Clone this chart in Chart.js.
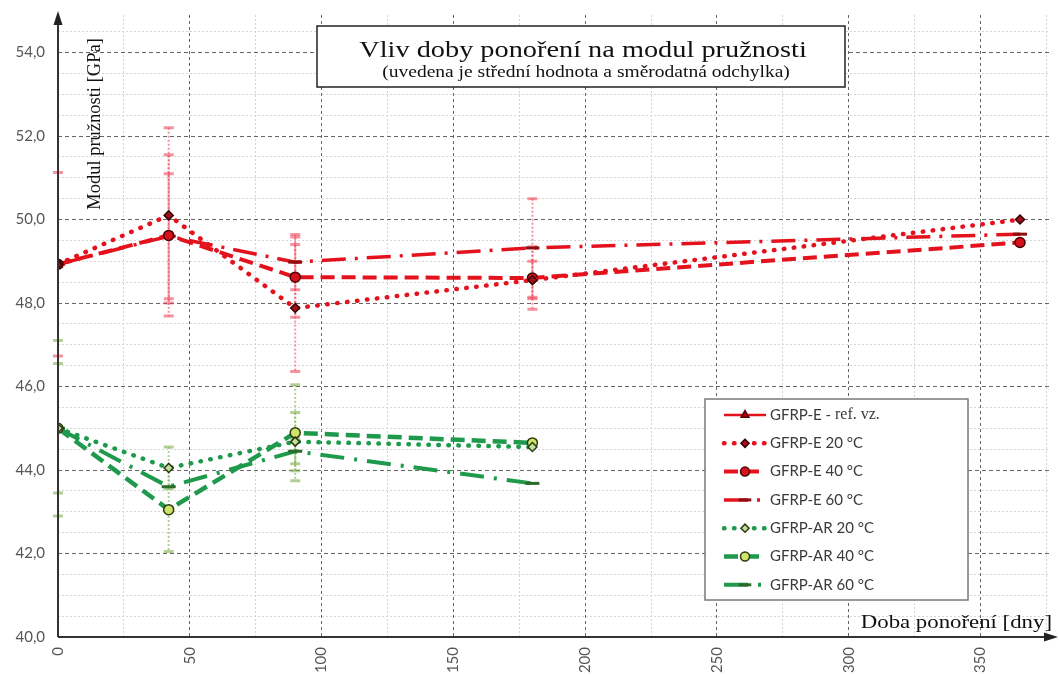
<!DOCTYPE html>
<html>
<head>
<meta charset="utf-8">
<script src="https://cdn.jsdelivr.net/npm/chart.js@4.4.0/dist/chart.umd.min.js"></script>
<style>
  html, body { margin: 0; padding: 0; background: #fff; }
  #wrap { width: 1059px; height: 675px; }
</style>
</head>
<body>
<div id="wrap"><canvas id="modulChart"></canvas></div>
<script>
// ─── Data ─────────────────────────────────────────────────────────────────
const seriesNames = ['GFRP-E - ref. vz.', 'GFRP-E 20 °C', 'GFRP-E 40 °C', 'GFRP-E 60 °C',
                     'GFRP-AR 20 °C', 'GFRP-AR 40 °C', 'GFRP-AR 60 °C'];

const refDays = [0];
const eDays = [0, 42, 90, 180, 365];
const arDays = [0, 42, 90, 180];

const refMean = [48.93];
const refErr  = [2.2];

const e20Mean = [48.93, 50.10, 47.88, 48.55, 50.00];
const e20Err  = [0, 2.10, 1.52, 0.45, 0];
const e40Mean = [48.93, 49.62, 48.62, 48.60, 49.45];
const e40Err  = [0, 1.93, 0.96, 0.75, 0];
const e60Mean = [48.93, 49.60, 48.98, 49.32, 49.65];
const e60Err  = [0, 1.50, 0.66, 1.18, 0];

const ar20Mean = [45.00, 44.05, 44.68, 44.55];
const ar20Err  = [1.55, 0.50, 0.70, 0];
const ar40Mean = [45.00, 43.05, 44.89, 44.65];
const ar40Err  = [2.10, 1.00, 1.15, 0];
const ar60Mean = [45.00, 43.60, 44.45, 43.68];
const ar60Err  = [0, 0, 0.30, 0];

const xTickStep = 25;    // minor grid every 25 days, labels every 50
const yTickStep = 0.5;   // minor grid every 0.5 GPa, labels every 2

const chartTitle = 'Vliv doby ponoření na modul pružnosti';
const chartSubtitle = '(uvedena je střední hodnota a směrodatná odchylka)';
const yTitle = 'Modul pružnosti [GPa]';
const xTitle = 'Doba ponoření [dny]';

// ─── Styling ──────────────────────────────────────────────────────────────
const RED = '#e3121d';
const GREEN = '#1f9a4c';
const RED_ERR = 'rgba(236, 60, 80, 0.55)';
const GREEN_ERR = 'rgba(130, 175, 80, 0.6)';
const SANS = 'Lato, "Open Sans", sans-serif';
const SERIF = '"Liberation Serif", "DejaVu Serif", serif';

function pts(xs, ys) {
    return xs.map((x, i) => ({ x, y: ys[i] }));
}

function series(label, xs, ys, errs, style) {
    return Object.assign({
        label,
        data: pts(xs, ys),
        errors: errs,
        fill: false,
        tension: 0,
        borderCapStyle: 'butt',
        pointBorderWidth: 1.5,
        pointHoverRadius: 0
    }, style);
}

const datasets = [
    series(seriesNames[0], refDays, refMean, refErr, {
        borderColor: RED, borderWidth: 2.5, borderDash: [],
        pointStyle: 'triangle', pointRadius: 5,
        pointBackgroundColor: '#b00010', pointBorderColor: '#5a0000', errColor: RED_ERR
    }),
    series(seriesNames[1], eDays, e20Mean, e20Err, {
        borderColor: RED, borderWidth: 4.5, borderDash: [0.5, 9.5], borderCapStyle: 'round',
        pointStyle: 'rectRot', pointRadius: 4.5,
        pointBackgroundColor: '#a0101e', pointBorderColor: '#3a0000', errColor: RED_ERR
    }),
    series(seriesNames[2], eDays, e40Mean, e40Err, {
        borderColor: RED, borderWidth: 4, borderDash: [14, 7],
        pointStyle: 'circle', pointRadius: 5,
        pointBackgroundColor: '#d8101c', pointBorderColor: '#4a0000', errColor: RED_ERR
    }),
    series(seriesNames[3], eDays, e60Mean, e60Err, {
        borderColor: RED, borderWidth: 3.5, borderDash: [24, 9, 3, 9],
        pointStyle: 'line', pointRadius: 7, pointBorderWidth: 3,
        pointBackgroundColor: '#8a1010', pointBorderColor: '#8a1010', errColor: RED_ERR
    }),
    series(seriesNames[4], arDays, ar20Mean, ar20Err, {
        borderColor: GREEN, borderWidth: 4.5, borderDash: [0.5, 9.5], borderCapStyle: 'round',
        pointStyle: 'rectRot', pointRadius: 4.5,
        pointBackgroundColor: '#c4e0a0', pointBorderColor: '#2c3a10', errColor: GREEN_ERR
    }),
    series(seriesNames[5], arDays, ar40Mean, ar40Err, {
        borderColor: GREEN, borderWidth: 4.5, borderDash: [14, 7],
        pointStyle: 'circle', pointRadius: 5,
        pointBackgroundColor: '#cde36a', pointBorderColor: '#2c3a10', errColor: GREEN_ERR
    }),
    series(seriesNames[6], arDays, ar60Mean, ar60Err, {
        borderColor: GREEN, borderWidth: 4, borderDash: [24, 10, 3, 10],
        pointStyle: 'line', pointRadius: 7, pointBorderWidth: 3,
        pointBackgroundColor: '#2a6a2a', pointBorderColor: '#2a6a2a', errColor: GREEN_ERR
    })
];

// ─── Helpers ──────────────────────────────────────────────────────────────
const isMultiple = (v, step) => Math.abs(v / step - Math.round(v / step)) < 1e-6;

// Draw text stretched horizontally (reference looks widened)
function stretchText(ctx, text, x, y, sx, align) {
    ctx.save();
    ctx.translate(x, y);
    ctx.scale(sx, 1);
    ctx.textAlign = align;
    ctx.fillText(text, 0, 0);
    ctx.restore();
}

// Error bars: dotted whiskers with short caps, drawn below the lines
const errorBars = {
    id: 'errorBars',
    beforeDatasetsDraw(chart) {
        const { ctx, scales: { x, y } } = chart;
        ctx.save();
        chart.data.datasets.forEach(ds => {
            (ds.errors || []).forEach((e, i) => {
                if (!e) return;
                const p = ds.data[i];
                const px = x.getPixelForValue(p.x);
                const top = y.getPixelForValue(p.y + e);
                const bot = y.getPixelForValue(p.y - e);
                ctx.strokeStyle = ds.errColor;
                ctx.lineWidth = 2;
                ctx.setLineDash([2, 2]);
                ctx.beginPath();
                ctx.moveTo(px, top);
                ctx.lineTo(px, bot);
                ctx.stroke();
                ctx.setLineDash([]);
                ctx.lineWidth = 3;
                ctx.beginPath();
                ctx.moveTo(px - 5, top); ctx.lineTo(px + 5, top);
                ctx.moveTo(px - 5, bot); ctx.lineTo(px + 5, bot);
                ctx.stroke();
            });
        });
        ctx.restore();
    }
};

// Axes with arrows, title box, axis titles and the boxed legend
const decorations = {
    id: 'decorations',
    afterDraw(chart) {
        const { ctx, chartArea: a } = chart;
        ctx.save();

        // axes with arrow heads
        ctx.strokeStyle = '#333';
        ctx.fillStyle = '#222';
        ctx.lineWidth = 2;
        ctx.beginPath();
        ctx.moveTo(a.left, a.bottom);
        ctx.lineTo(a.left, a.top + 6);
        ctx.moveTo(a.left, a.bottom);
        ctx.lineTo(1050, a.bottom);
        ctx.stroke();
        ctx.beginPath();
        ctx.moveTo(a.left, a.top - 4);
        ctx.lineTo(a.left - 4.5, a.top + 10);
        ctx.lineTo(a.left + 4.5, a.top + 10);
        ctx.closePath();
        ctx.fill();
        ctx.beginPath();
        ctx.moveTo(1058, a.bottom);
        ctx.lineTo(1044, a.bottom - 4.5);
        ctx.lineTo(1044, a.bottom + 4.5);
        ctx.closePath();
        ctx.fill();

        // title box
        ctx.fillStyle = '#fff';
        ctx.fillRect(317, 26, 528, 61);
        ctx.strokeStyle = '#222';
        ctx.lineWidth = 1.5;
        ctx.strokeRect(317, 26, 528, 61);
        ctx.fillStyle = '#111';
        ctx.textBaseline = 'alphabetic';
        ctx.font = '24px ' + SERIF;
        stretchText(ctx, chartTitle, 583, 57, 1.18, 'center');
        ctx.font = '16px ' + SERIF;
        stretchText(ctx, chartSubtitle, 586, 77, 1.22, 'center');

        // axis titles
        ctx.font = '19px ' + SERIF;
        stretchText(ctx, xTitle, 1052, 628, 1.2, 'right');
        ctx.save();
        ctx.translate(100, 124);
        ctx.rotate(-Math.PI / 2);
        ctx.font = '18.5px ' + SERIF;
        ctx.textAlign = 'center';
        ctx.fillText(yTitle, 0, 0);
        ctx.restore();

        // legend
        const lx = 705, ly = 399, lw = 263, lh = 201;
        ctx.fillStyle = '#fff';
        ctx.fillRect(lx, ly, lw, lh);
        ctx.strokeStyle = '#7a7a7a';
        ctx.lineWidth = 1.5;
        ctx.strokeRect(lx, ly, lw, lh);
        chart.data.datasets.forEach((ds, i) => {
            const yy = ly + 16 + i * 28.3;
            ctx.strokeStyle = ds.borderColor;
            ctx.lineWidth = ds.borderWidth;
            ctx.lineCap = ds.borderCapStyle;
            ctx.setLineDash(ds.borderDash);
            ctx.beginPath();
            ctx.moveTo(724, yy);
            ctx.lineTo(766, yy);
            ctx.stroke();
            ctx.setLineDash([]);
            ctx.lineCap = 'butt';
            ctx.fillStyle = ds.pointBackgroundColor;
            ctx.strokeStyle = ds.pointBorderColor;
            ctx.lineWidth = ds.pointBorderWidth;
            Chart.helpers.drawPoint(ctx, {
                pointStyle: ds.pointStyle, rotation: 0,
                radius: ds.pointRadius * 0.9, borderWidth: ds.pointBorderWidth
            }, 745, yy);

            ctx.fillStyle = '#3a3a3a';
            ctx.textAlign = 'left';
            ctx.textBaseline = 'middle';
            const k = ds.label.indexOf('ref.');
            if (k >= 0) {
                ctx.font = '15px ' + SANS;
                const head = ds.label.slice(0, k);
                ctx.fillText(head, 770, yy);
                const w = ctx.measureText(head).width;
                ctx.font = '16px ' + SERIF;
                ctx.fillText(ds.label.slice(k), 770 + w, yy);
            } else {
                ctx.font = '15px ' + SANS;
                ctx.fillText(ds.label, 770, yy);
            }
        });
        ctx.restore();
    }
};

// ─── Chart ────────────────────────────────────────────────────────────────
new Chart(document.getElementById('modulChart'), {
    type: 'line',
    data: { datasets },
    plugins: [errorBars, decorations],
    options: {
        responsive: true,
        maintainAspectRatio: false,
        animation: false,
        events: [],
        layout: { padding: { top: 15, right: 9, left: 0, bottom: 0 } },
        plugins: {
            legend: { display: false },
            tooltip: { enabled: false }
        },
        scales: {
            x: {
                type: 'linear',
                min: 0,
                max: 376,
                afterFit: s => { s.height = 38; s.paddingLeft = 0; s.paddingRight = 0; },
                ticks: {
                    stepSize: xTickStep,
                    includeBounds: false,
                    autoSkip: false,
                    minRotation: 90,
                    maxRotation: 90,
                    padding: 10,
                    color: '#555',
                    font: { family: SANS, size: 15 },
                    callback: v => isMultiple(v, 50) ? String(v) : ''
                },
                grid: {
                    drawTicks: false,
                    lineWidth: 1,
                    color: c => isMultiple(c.tick.value, 50) ? '#666' : '#d6d6d6'
                },
                border: {
                    display: false,
                    dash: c => isMultiple(c.tick.value, 50) ? [3, 3] : [2, 2]
                }
            },
            y: {
                type: 'linear',
                min: 40,
                max: 54.9,
                afterFit: s => { s.width = 58; s.paddingTop = 0; s.paddingBottom = 0; },
                ticks: {
                    stepSize: yTickStep,
                    includeBounds: false,
                    autoSkip: false,
                    padding: 13,
                    color: '#555',
                    font: { family: SANS, size: 15 },
                    callback: v => isMultiple(v, 2) ? v.toFixed(1).replace('.', ',') : ''
                },
                grid: {
                    drawTicks: false,
                    lineWidth: 1,
                    color: c => isMultiple(c.tick.value, 2) ? '#666' : '#d6d6d6'
                },
                border: {
                    display: false,
                    dash: c => isMultiple(c.tick.value, 2) ? [4, 3] : [2, 2]
                }
            }
        }
    }
});
</script>
</body>
</html>
